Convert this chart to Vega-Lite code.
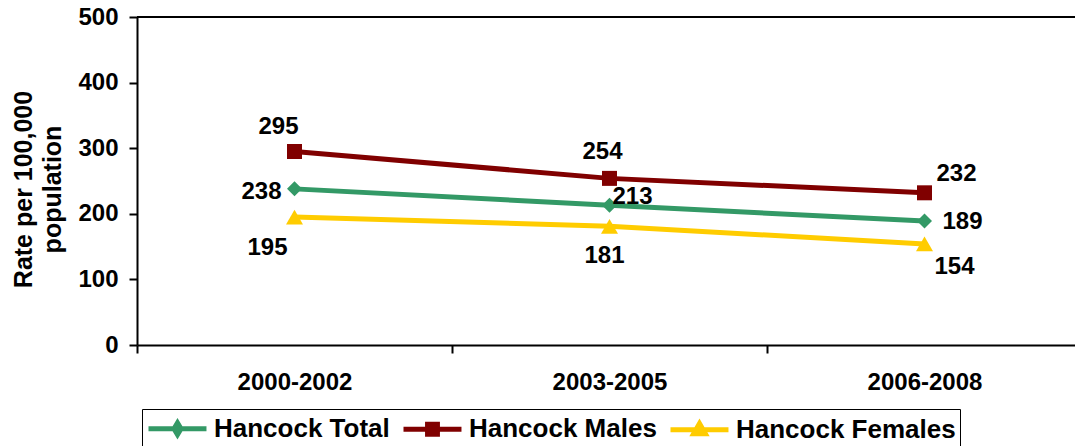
{
  "$schema": "https://vega.github.io/schema/vega-lite/v6.json",
  "width": 938,
  "height": 328,
  "autosize": {"type": "none"},
  "padding": {"left": 137, "top": 17, "right": 0, "bottom": 101},
  "background": "white",
  "config": {
    "view": {"stroke": null},
    "font": "Liberation Sans",
    "text": {"font": "Liberation Sans"}
  },
  "data": {
    "values": [
      {"period": "2000-2002", "series": "Hancock Total", "rate": 238},
      {"period": "2003-2005", "series": "Hancock Total", "rate": 213},
      {"period": "2006-2008", "series": "Hancock Total", "rate": 189},
      {"period": "2000-2002", "series": "Hancock Males", "rate": 295},
      {"period": "2003-2005", "series": "Hancock Males", "rate": 254},
      {"period": "2006-2008", "series": "Hancock Males", "rate": 232},
      {"period": "2000-2002", "series": "Hancock Females", "rate": 195},
      {"period": "2003-2005", "series": "Hancock Females", "rate": 181},
      {"period": "2006-2008", "series": "Hancock Females", "rate": 154}
    ]
  },
  "encoding": {
    "x": {
      "field": "period",
      "type": "nominal",
      "scale": {"range": [0, 945], "paddingInner": 0, "paddingOuter": 0},
      "axis": {
        "title": null,
        "labelAngle": 0,
        "labelFont": "Liberation Sans",
        "labelFontSize": 24,
        "labelFontWeight": "bold",
        "labelColor": "black",
        "labelPadding": 17,
        "tickBand": "extent",
        "tickSize": 8,
        "tickWidth": 2,
        "tickColor": "black",
        "domainColor": "black",
        "domainWidth": 2,
        "grid": false
      }
    },
    "y": {
      "field": "rate",
      "type": "quantitative",
      "scale": {"domain": [0, 500], "nice": false},
      "axis": {
        "values": [0, 100, 200, 300, 400, 500],
        "title": ["Rate per 100,000", "population"],
        "titleFont": "Liberation Sans",
        "titleFontSize": 25,
        "titleFontWeight": "bold",
        "titleColor": "black",
        "titleLineHeight": 29,
        "titleAngle": -90,
        "titleAlign": "center",
        "titleBaseline": "alphabetic",
        "titleX": -106,
        "titleY": 172,
        "labelFont": "Liberation Sans",
        "labelFontSize": 24,
        "labelFontWeight": "bold",
        "labelColor": "black",
        "labelPadding": 11,
        "tickSize": 8,
        "tickWidth": 2,
        "tickColor": "black",
        "domainColor": "black",
        "domainWidth": 2,
        "grid": false
      }
    }
  },
  "layer": [
    {
      "mark": {"type": "rule", "color": "black", "strokeWidth": 2},
      "encoding": {"y": {"datum": 500}, "x": null}
    },
    {
      "transform": [{"filter": "datum.rate < 0"}],
      "mark": {"type": "point", "filled": false, "opacity": 1, "strokeWidth": 5},
      "encoding": {
        "color": {
          "field": "series",
          "type": "nominal",
          "scale": {
            "domain": ["Hancock Total", "Hancock Males", "Hancock Females"],
            "range": ["#339966", "#800000", "#FFCC00"]
          },
          "legend": {
            "orient": "none",
            "legendX": 5,
            "legendY": 392,
            "direction": "horizontal",
            "columns": 3,
            "title": null,
            "labelFont": "Liberation Sans",
            "labelFontSize": 26,
            "labelFontWeight": "bold",
            "labelColor": "black",
            "labelLimit": 500,
            "labelOffset": 37,
            "columnPadding": 3,
            "padding": 4,
            "strokeColor": "black",
            "symbolSize": 676,
            "symbolStrokeWidth": 5,
            "symbolOpacity": 1,
            "encode": {"legend": {"strokeWidth": {"value": 2}}}
          }
        },
        "shape": {
          "field": "series",
          "type": "nominal",
          "scale": {
            "domain": ["Hancock Total", "Hancock Males", "Hancock Females"],
            "range": [
              "M-1,0H3.46M0.96,0L1.23,-0.45L1.5,0L1.23,0.45Z",
              "M-1,0H3.46M0.85,-0.38H1.61V0.38H0.85Z",
              "M-1,0H3.46M1.23,-0.49L1.68,0.29L0.78,0.29Z"
            ]
          }
        }
      }
    },
    {
      "mark": {"type": "line"},
      "encoding": {
        "color": {"field": "series", "type": "nominal"},
        "strokeWidth": {
          "field": "series",
          "type": "nominal",
          "scale": {
            "domain": ["Hancock Total", "Hancock Males", "Hancock Females"],
            "range": [5, 5, 7]
          },
          "legend": null
        }
      }
    },
    {
      "transform": [{"filter": "datum.series === 'Hancock Total'"}],
      "mark": {"type": "point", "filled": true, "opacity": 1, "shape": "diamond", "size": 225},
      "encoding": {"color": {"field": "series", "type": "nominal"}}
    },
    {
      "transform": [{"filter": "datum.series === 'Hancock Males'"}],
      "mark": {"type": "point", "filled": true, "opacity": 1, "shape": "square", "size": 225},
      "encoding": {"color": {"field": "series", "type": "nominal"}}
    },
    {
      "transform": [{"filter": "datum.series === 'Hancock Females'"}],
      "mark": {"type": "point", "filled": true, "opacity": 1, "shape": "triangle-up", "size": 289},
      "encoding": {"color": {"field": "series", "type": "nominal"}}
    },
    {
      "transform": [{"filter": "datum.series === 'Hancock Males' && datum.period === '2000-2002'"}],
      "mark": {"type": "text", "fontSize": 24, "fontWeight": "bold", "color": "black", "baseline": "middle", "align": "center", "dx": -16, "dy": -24},
      "encoding": {"text": {"field": "rate"}}
    },
    {
      "transform": [{"filter": "datum.series === 'Hancock Males' && datum.period === '2003-2005'"}],
      "mark": {"type": "text", "fontSize": 24, "fontWeight": "bold", "color": "black", "baseline": "middle", "align": "center", "dx": -7, "dy": -26},
      "encoding": {"text": {"field": "rate"}}
    },
    {
      "transform": [{"filter": "datum.series === 'Hancock Males' && datum.period === '2006-2008'"}],
      "mark": {"type": "text", "fontSize": 24, "fontWeight": "bold", "color": "black", "baseline": "middle", "align": "center", "dx": 32, "dy": -19},
      "encoding": {"text": {"field": "rate"}}
    },
    {
      "transform": [{"filter": "datum.series === 'Hancock Total' && datum.period === '2000-2002'"}],
      "mark": {"type": "text", "fontSize": 24, "fontWeight": "bold", "color": "black", "baseline": "middle", "align": "center", "dx": -33, "dy": 3},
      "encoding": {"text": {"field": "rate"}}
    },
    {
      "transform": [{"filter": "datum.series === 'Hancock Total' && datum.period === '2003-2005'"}],
      "mark": {"type": "text", "fontSize": 24, "fontWeight": "bold", "color": "black", "baseline": "middle", "align": "center", "dx": 23, "dy": -8},
      "encoding": {"text": {"field": "rate"}}
    },
    {
      "transform": [{"filter": "datum.series === 'Hancock Total' && datum.period === '2006-2008'"}],
      "mark": {"type": "text", "fontSize": 24, "fontWeight": "bold", "color": "black", "baseline": "middle", "align": "center", "dx": 38, "dy": 1},
      "encoding": {"text": {"field": "rate"}}
    },
    {
      "transform": [{"filter": "datum.series === 'Hancock Females' && datum.period === '2000-2002'"}],
      "mark": {"type": "text", "fontSize": 24, "fontWeight": "bold", "color": "black", "baseline": "middle", "align": "center", "dx": -27, "dy": 31},
      "encoding": {"text": {"field": "rate"}}
    },
    {
      "transform": [{"filter": "datum.series === 'Hancock Females' && datum.period === '2003-2005'"}],
      "mark": {"type": "text", "fontSize": 24, "fontWeight": "bold", "color": "black", "baseline": "middle", "align": "center", "dx": -5, "dy": 30},
      "encoding": {"text": {"field": "rate"}}
    },
    {
      "transform": [{"filter": "datum.series === 'Hancock Females' && datum.period === '2006-2008'"}],
      "mark": {"type": "text", "fontSize": 24, "fontWeight": "bold", "color": "black", "baseline": "middle", "align": "center", "dx": 30, "dy": 23},
      "encoding": {"text": {"field": "rate"}}
    }
  ]
}
